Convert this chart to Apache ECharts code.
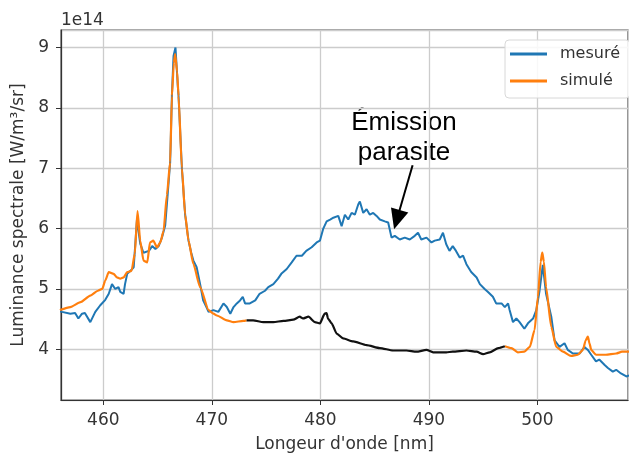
<!DOCTYPE html>
<html>
<head>
<meta charset="utf-8">
<script src="https://cdn.jsdelivr.net/npm/echarts@6/dist/echarts.min.js"></script>
<style>
  html, body { margin: 0; padding: 0; background: #fff; }
  #chart { width: 629px; height: 458px; }
</style>
</head>
<body>
<div id="chart"></div>
<script>
// longueur d'onde (nm) et luminance (x1e14)
const mesureX = [456.0, 456.2, 456.96, 457.4, 457.7, 458.04, 458.3, 458.8, 459.26, 459.72, 460.18, 460.5, 460.8, 461.1, 461.4, 461.56, 461.87, 462.0, 462.2, 462.5, 462.8, 463.1, 463.4, 463.7, 464.2, 464.5, 464.8, 465.1, 465.4, 465.7, 465.9, 466.16, 466.32, 466.47, 466.65, 466.85, 466.93, 467.24, 467.54, 467.85, 468.1, 468.3, 468.6, 468.92, 469.2, 469.5, 469.7, 470.15, 470.6, 471.07, 471.38, 471.7, 472.0, 472.3, 472.6, 472.85, 473.06, 473.5, 474.0, 474.4, 474.9, 475.2, 475.67, 476.1, 476.4, 476.9, 477.36, 477.8, 478.3, 478.7, 479.2, 479.66, 479.96, 480.27, 480.58, 480.9, 481.2, 481.65, 481.96, 482.26, 482.57, 482.88, 483.18, 483.49, 483.64, 483.95, 484.26, 484.56, 484.87, 485.18, 485.48, 485.94, 486.25, 486.56, 486.86, 487.32, 487.78, 488.24, 488.7, 489.0, 489.3, 489.78, 490.24, 490.54, 491.0, 491.3, 491.6, 491.9, 492.2, 492.5, 492.84, 493.15, 493.46, 493.9, 494.4, 494.7, 495.14, 495.45, 495.9, 496.2, 496.7, 497.0, 497.3, 497.44, 497.75, 498.06, 498.36, 498.8, 499.13, 499.6, 499.9, 500.2, 500.5, 500.8, 501.28, 501.58, 502.04, 502.5, 502.8, 503.27, 503.9, 504.34, 504.65, 504.96, 505.4, 505.7, 506.2, 506.5, 506.95, 507.26, 507.7, 508.2, 508.5];
const mesureY = [4.63, 4.62, 4.59, 4.60, 4.51, 4.59, 4.60, 4.45, 4.62, 4.73, 4.82, 4.92, 5.08, 5.00, 5.03, 4.95, 4.92, 5.08, 5.25, 5.30, 5.36, 6.15, 5.75, 5.60, 5.63, 5.71, 5.66, 5.71, 5.85, 6.05, 6.50, 7.10, 8.20, 8.86, 9.00, 8.40, 8.20, 7.00, 6.23, 5.80, 5.60, 5.47, 5.36, 5.08, 4.81, 4.70, 4.62, 4.65, 4.62, 4.76, 4.70, 4.59, 4.70, 4.76, 4.81, 4.87, 4.76, 4.76, 4.81, 4.92, 4.97, 5.03, 5.08, 5.17, 5.25, 5.33, 5.44, 5.55, 5.55, 5.63, 5.69, 5.77, 5.80, 6.00, 6.12, 6.15, 6.18, 6.21, 6.04, 6.23, 6.15, 6.26, 6.23, 6.40, 6.45, 6.26, 6.32, 6.23, 6.26, 6.21, 6.15, 6.12, 6.10, 5.85, 5.88, 5.82, 5.85, 5.82, 5.88, 5.93, 5.82, 5.85, 5.77, 5.80, 5.82, 5.93, 5.74, 5.63, 5.71, 5.63, 5.52, 5.55, 5.41, 5.28, 5.19, 5.08, 5.00, 4.95, 4.87, 4.76, 4.76, 4.70, 4.76, 4.65, 4.45, 4.51, 4.45, 4.34, 4.43, 4.51, 4.65, 4.97, 5.40, 4.92, 4.54, 4.15, 4.04, 4.10, 3.99, 3.93, 3.93, 4.04, 3.99, 3.91, 3.80, 3.83, 3.74, 3.69, 3.63, 3.66, 3.60, 3.55, 3.57];

const simuleX = [456.0, 456.96, 457.9, 458.8, 459.5, 459.9, 460.18, 460.5, 460.95, 461.26, 461.56, 461.87, 462.2, 462.6, 462.9, 463.15, 463.4, 463.7, 464.05, 464.3, 464.6, 464.95, 465.25, 465.55, 465.86, 466.16, 466.32, 466.5, 466.62, 466.8, 466.93, 467.24, 467.54, 467.85, 468.3, 468.92, 469.7, 470.15, 470.46, 471.38, 472.0, 472.9, 473.2, 485.0, 497.0, 497.6, 498.2, 498.8, 499.3, 499.74, 500.05, 500.3, 500.45, 500.6, 500.8, 501.28, 501.74, 502.35, 503.1, 503.73, 504.2, 504.45, 504.65, 504.8, 504.96, 505.4, 506.3, 507.26, 507.8, 508.5];
const simuleY = [4.65, 4.70, 4.78, 4.89, 4.97, 5.00, 5.14, 5.28, 5.25, 5.19, 5.17, 5.19, 5.28, 5.30, 5.58, 6.29, 5.80, 5.47, 5.44, 5.77, 5.80, 5.69, 5.77, 5.96, 6.56, 7.10, 8.20, 8.75, 8.89, 8.60, 8.20, 7.00, 6.23, 5.80, 5.41, 5.03, 4.65, 4.59, 4.56, 4.48, 4.45, 4.47, 4.48, null, 4.05, 4.02, 3.95, 3.96, 4.04, 4.32, 4.87, 5.45, 5.60, 5.45, 5.03, 4.37, 4.04, 3.96, 3.89, 3.91, 3.99, 4.15, 4.21, 4.10, 3.99, 3.91, 3.91, 3.93, 3.96, 3.96];

// partie "émission parasite" (tracée en noir)
const parasiteX = [473.2, 473.8, 474.75, 475.67, 476.6, 477.5, 478.1, 478.4, 478.9, 479.5, 479.96, 480.4, 480.58, 480.7, 481.04, 481.5, 482.1, 483.03, 484.26, 485.48, 486.7, 487.94, 488.85, 489.78, 490.39, 491.6, 492.2, 493.46, 494.4, 495.0, 495.6, 496.4, 497.0];
const parasiteY = [4.48, 4.48, 4.45, 4.45, 4.47, 4.49, 4.54, 4.51, 4.54, 4.45, 4.43, 4.59, 4.60, 4.51, 4.43, 4.26, 4.18, 4.13, 4.07, 4.02, 3.98, 3.98, 3.96, 3.99, 3.95, 3.95, 3.96, 3.98, 3.96, 3.92, 3.95, 4.02, 4.05];

// flèche d'annotation : [queue, pointe]
const flecheX = [488.5, 487.05];
const flecheY = [7.05, 6.15];

const toPairs = (xs, ys) => xs.map((x, i) => [x, ys[i]]);

const FONT = 'DejaVu Sans';
const LINE_ICON = 'path://M0,0 L40,0 L40,3 L0,3 Z';
const chart = echarts.init(document.getElementById('chart'), null, { renderer: 'canvas' });

const option = {
  animation: false,
  grid: {
    left: 61, right: 1, top: 30, bottom: 54,
    show: true,
    borderColor: '#444',
    borderWidth: 1.2
  },
  legend: {
    orient: 'vertical',
    left: 505, top: 40,
    data: [
      { name: 'mesuré', icon: LINE_ICON },
      { name: 'simulé', icon: LINE_ICON }
    ],
    itemWidth: 37, itemHeight: 14, itemGap: 11,
    padding: [6, 10, 9, 5],
    backgroundColor: 'rgba(255,255,255,0.85)',
    borderColor: '#d8d8d8', borderWidth: 1, borderRadius: 4,
    textStyle: { fontFamily: FONT, fontSize: 16, color: '#333', padding: [0, 0, 0, 8] }
  },
  xAxis: {
    type: 'value',
    min: 456.1, max: 508.35,
    name: "Longeur d'onde [nm]",
    nameLocation: 'middle', nameGap: 36,
    nameTextStyle: { fontFamily: FONT, fontSize: 17, color: '#333' },
    axisLine: { show: true, lineStyle: { color: '#333', width: 1.2 } },
    axisTick: { show: true, length: 5, lineStyle: { color: '#333' } },
    axisLabel: { fontFamily: FONT, fontSize: 17, color: '#333', margin: 12, showMinLabel: false, showMaxLabel: false },
    splitLine: { show: true, lineStyle: { color: '#cccccc', width: 1.3 } }
  },
  yAxis: {
    type: 'value',
    min: 3.16, max: 9.29,
    name: 'Luminance spectrale [W/m³/sr]',
    nameLocation: 'middle', nameGap: 30,
    nameTextStyle: { fontFamily: FONT, fontSize: 17, color: '#333' },
    axisLine: { show: true, lineStyle: { color: '#333', width: 1.2 } },
    axisTick: { show: true, length: 5, lineStyle: { color: '#333' } },
    axisLabel: { fontFamily: FONT, fontSize: 17, color: '#333', margin: 12, showMinLabel: false, showMaxLabel: false },
    splitLine: { show: true, lineStyle: { color: '#cccccc', width: 1.3 } }
  },
  series: [
    {
      name: 'mesuré',
      type: 'line',
      data: toPairs(mesureX, mesureY),
      showSymbol: false, symbol: 'none',
      lineStyle: { color: '#1f77b4', width: 2 },
      itemStyle: { color: '#1f77b4' }
    },
    {
      name: 'simulé',
      type: 'line',
      data: toPairs(simuleX, simuleY),
      showSymbol: false, symbol: 'none',
      smooth: 0.2, smoothMonotone: 'x',
      lineStyle: { color: '#ff7f0e', width: 2.2 },
      itemStyle: { color: '#ff7f0e' }
    },
    {
      name: 'parasite',
      type: 'line',
      data: toPairs(parasiteX, parasiteY),
      showSymbol: false, symbol: 'none',
      smooth: 0.2, smoothMonotone: 'x',
      lineStyle: { color: '#111', width: 2.2 },
      itemStyle: { color: '#111' },
      markLine: {
        silent: true,
        symbol: ['none', 'triangle'],
        symbolSize: [18, 20],
        lineStyle: { color: '#000', width: 2, type: 'solid' },
        label: { show: false },
        data: [[
          { coord: [flecheX[0], flecheY[0]] },
          { coord: [flecheX[1], flecheY[1]] }
        ]]
      }
    }
  ],
  graphic: [
    {
      type: 'text', left: 61, top: 12,
      style: { text: '1e14', font: '17px "DejaVu Sans"', fill: '#333' }
    },
    {
      type: 'text', x: 404, y: 108,
      style: {
        text: 'Émission\nparasite',
        font: '26px "Liberation Sans"',
        lineHeight: 30,
        fill: '#000',
        align: 'center',
        verticalAlign: 'top'
      }
    }
  ]
};

chart.setOption(option);
</script>
</body>
</html>
